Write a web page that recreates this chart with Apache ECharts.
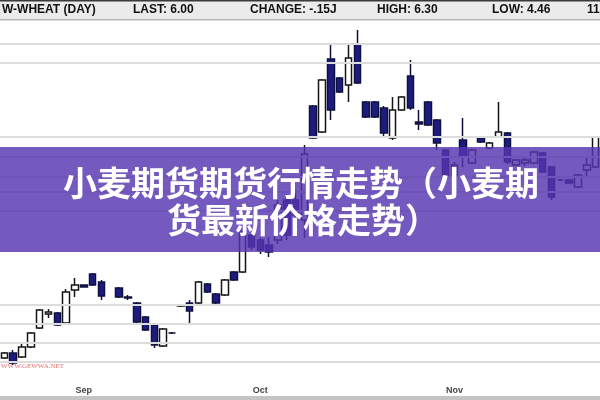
<!DOCTYPE html>
<html>
<head>
<meta charset="utf-8">
<script src="https://cdn.jsdelivr.net/npm/echarts@6/dist/echarts.min.js"></script>
<style>html,body{margin:0;padding:0;background:#fff}#c{width:600px;height:400px}</style>
</head>
<body>
<div id="c"></div>
<script>
// ---- data ----
const monthTickIndex = [9, 29, 51];
const monthTickLabel = ['Sep', 'Oct', 'Nov'];
// daily candles: open, close, low, high (null = no bar)
const opens  = [506,508.5,506.5,511.5,521,528,528.5,523.5,540,542.5,548,544,null,541,536.5,533.5,526.5,522.5,512,518.5,532,533.5,533.5,543,538,537.5,549,549,567.5,565,562.5,565,585,585,575,632,619,655.5,646,642.5,663,634,634,631,616,630,647,624,634,625,610,597.5,615,603.5,616,611,616.5,618.5,602.5,603.5,603.5,608.5,601.5,595,595,591.5,600,601.5];
const closes = [508.5,503.5,511.5,518.5,530,529,522.5,539,542.5,541.5,542.5,537,null,536.5,536,524,520,512.5,520.5,518.5,532.5,529.5,544,539,533.5,545,545,569,561.5,560,559,582.5,567.5,577.5,608,616,645,630,639,656,643.5,626.5,626.5,618.5,630,636.5,631,623,622.5,613.5,596.5,602.5,606.5,610,614,613.5,619,604,605,605,609,599,586.5,595,593.5,597.5,602.5,616.5];
const lows   = [505.5,502.5,506,511,520.5,526,522,523,536.5,541.5,542,535,null,536,535,523.5,519.5,511,511.5,518,531.5,523.5,533,538.5,533,537,544.5,548.5,560,558,556.5,563,565,575,566,615.5,618.5,625,638.5,634,643,626,626,617,615,629.5,630,620,622,610,596,596,601.5,603,613.5,610.5,616,603,602,602,603,598.5,585,594.5,593.5,591,596.5,601];
const highs  = [509,510,513.5,519,530.5,530.5,529,540.5,546,542.5,548.5,545,null,541.5,537.5,534,527,523,521,519,533,535,544.5,543.5,538.5,545.5,549.5,570,568,566,566.5,585,588,590,612.5,632.5,645.5,663.5,646.5,663.5,670,634.5,634.5,632,636.5,637,655,630,634.5,625.5,610.5,604,626,610.5,616.5,614,634,619,605.5,606,609.5,609,602,595.5,595,598,606,617];
// horizontal reference price levels (grid lines)
const gridLevels = [663, 653.5, 616.5, 606.5, 596.5, 589, 579.5, 532.5, 523, 513.5, 504];
const categories = opens.map((_, i) => 'D' + (i + 1));

const candleData = opens.map((o, i) => o === null ? ['-', '-', '-', '-'] : [o, closes[i], lows[i], highs[i]]);

const chart = echarts.init(document.getElementById('c'), null, {renderer: 'canvas'});
const hdrFont = 'bold 12px "Liberation Sans", Arial, sans-serif';
const cjk = '"Noto Sans CJK SC", "Noto Sans", sans-serif';
chart.setOption({
  animation: false,
  backgroundColor: '#ffffff',
  grid: {left: 0, right: 0, top: 20, bottom: 20},
  xAxis: {
    type: 'category', data: categories, boundaryGap: true,
    axisLine: {show: false}, axisTick: {show: false}, splitLine: {show: false},
    axisLabel: {
      interval: (i) => monthTickIndex.includes(i),
      formatter: (v, i) => { const k = monthTickIndex.indexOf(i); return k >= 0 ? monthTickLabel[k] : ''; },
      fontSize: 9, fontWeight: 'bold', color: '#444', margin: 6,
      fontFamily: '"Liberation Sans", Arial, sans-serif'
    }
  },
  yAxis: {type: 'value', min: 495, max: 675, show: false, splitLine: {show: false}},
  series: [
    {
      type: 'line', data: [], z: 1, silent: true,
      markLine: {
        silent: true, symbol: 'none', label: {show: false},
        lineStyle: {color: '#dcdcdc', width: 2, type: 'solid'},
        data: gridLevels.map(v => ({yAxis: v}))
      }
    },
    {
      type: 'candlestick', z: 3, data: candleData, barWidth: 7,
      itemStyle: {
        color: '#ffffff', borderColor: '#141414',
        color0: '#1c1c80', borderColor0: '#10103c',
        borderWidth: 1.5
      }
    }
  ],
  graphic: [
    {type: 'rect', z: 50, shape: {x: 0, y: 0, width: 600, height: 20}, style: {fill: '#ebebeb'}},
    {type: 'rect', z: 51, shape: {x: 0, y: 0, width: 600, height: 1.5}, style: {fill: '#3a3a3a'}},
    {type: 'rect', z: 51, shape: {x: 0, y: 19, width: 600, height: 1.5}, style: {fill: '#b5b5b5'}},
    {type: 'text', z: 52, x: 2, y: 10, style: {text: 'W-WHEAT (DAY)', font: hdrFont, fill: '#111', verticalAlign: 'middle'}},
    {type: 'text', z: 52, x: 133, y: 10, style: {text: 'LAST: 6.00', font: hdrFont, fill: '#111', verticalAlign: 'middle'}},
    {type: 'text', z: 52, x: 250, y: 10, style: {text: 'CHANGE: -.15J', font: hdrFont, fill: '#111', verticalAlign: 'middle'}},
    {type: 'text', z: 52, x: 377, y: 10, style: {text: 'HIGH: 6.30', font: hdrFont, fill: '#111', verticalAlign: 'middle'}},
    {type: 'text', z: 52, x: 492, y: 10, style: {text: 'LOW: 4.46', font: hdrFont, fill: '#111', verticalAlign: 'middle'}},
    {type: 'text', z: 52, x: 587, y: 10, style: {text: '11', font: 'bold 12px "Liberation Sans", Arial, sans-serif', fill: '#111', verticalAlign: 'middle'}},
    {type: 'rect', z: 50, shape: {x: 0, y: 396, width: 600, height: 4}, style: {fill: '#c4c4c4'}},
    {type: 'text', z: 52, x: 1, y: 366, style: {text: 'WWW.GEWWA.NET', font: '7px "Liberation Serif", serif', fill: '#e07070', verticalAlign: 'middle'}},
    {type: 'rect', z: 60, shape: {x: 0, y: 147, width: 600, height: 105}, style: {fill: 'rgba(85,53,176,0.82)'}},
    {type: 'text', z: 61, x: 301, y: 183, style: {text: '小麦期货期货行情走势（小麦期', font: 'bold 34px ' + cjk, fill: '#ffffff', align: 'center', verticalAlign: 'middle', shadowColor: 'rgba(0,0,0,0.35)', shadowBlur: 3}},
    {type: 'text', z: 61, x: 303, y: 220, style: {text: '货最新价格走势）', font: 'bold 34px ' + cjk, fill: '#ffffff', align: 'center', verticalAlign: 'middle', shadowColor: 'rgba(0,0,0,0.35)', shadowBlur: 3}}
  ]
});
</script>
</body>
</html>
